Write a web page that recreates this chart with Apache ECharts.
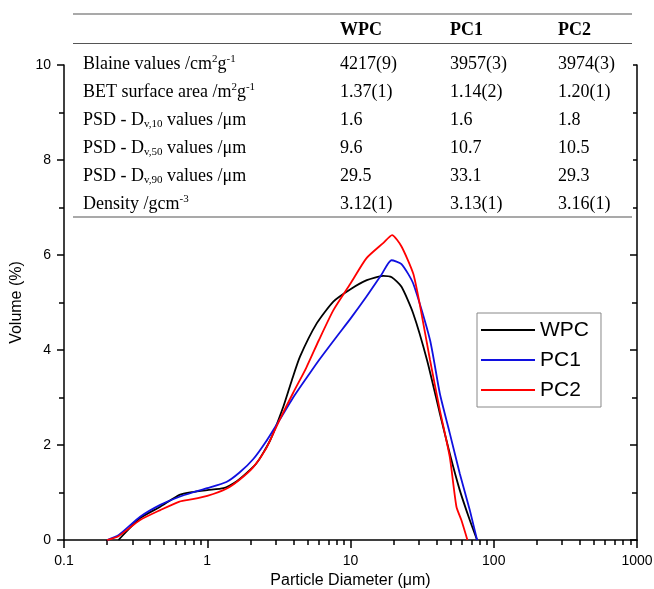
<!DOCTYPE html>
<html>
<head>
<meta charset="utf-8">
<script src="https://cdn.jsdelivr.net/npm/echarts@6/dist/echarts.min.js"></script>
<style>
  html, body { margin: 0; padding: 0; background: #fff; }
  #chart { width: 654px; height: 589px; }
</style>
</head>
<body>
<div id="chart"></div>
<script>
// particle size distributions
const wpcX = [0.24, 0.34, 0.47, 0.64, 0.79, 1.0, 1.3, 1.6, 2.2, 2.75, 3.4, 3.9, 4.44, 5.81, 7.59, 10, 13, 16.9, 19.4, 22.7, 27.4, 34.2, 42, 49.3, 57.9, 68, 76.5]
const wpcY = [0, 0.46, 0.70, 0.95, 1.01, 1.05, 1.09, 1.23, 1.61, 2.10, 2.81, 3.37, 3.86, 4.56, 5.02, 5.28, 5.47, 5.56, 5.53, 5.33, 4.77, 3.79, 2.67, 1.82, 1.05, 0.42, 0]

const pc1X = [0.2, 0.24, 0.34, 0.47, 0.64, 0.79, 1.0, 1.36, 1.68, 2.09, 2.58, 3.2, 3.98, 4.9, 6.0, 8.0, 10, 12.9, 16.4, 19.3, 22.7, 27.4, 35.9, 42, 49.3, 57.9, 68, 76.5]
const pc1Y = [0, 0.1, 0.49, 0.74, 0.91, 1.0, 1.09, 1.22, 1.42, 1.70, 2.08, 2.53, 3.0, 3.4, 3.78, 4.28, 4.66, 5.12, 5.58, 5.89, 5.81, 5.40, 4.21, 3.09, 2.25, 1.40, 0.63, 0]

const pc2X = [0.2, 0.24, 0.34, 0.47, 0.64, 0.79, 1.0, 1.36, 1.68, 2.09, 2.58, 3.2, 3.98, 4.9, 6.0, 7.6, 10, 12.9, 16.9, 19.5, 22.7, 27.4, 30.5, 35.9, 42, 49.3, 54.9, 59.4, 65.5]
const pc2Y = [0, 0.08, 0.42, 0.63, 0.81, 0.86, 0.93, 1.08, 1.27, 1.53, 1.93, 2.53, 3.10, 3.62, 4.20, 4.84, 5.40, 5.93, 6.25, 6.42, 6.18, 5.61, 4.95, 3.79, 2.74, 1.75, 0.70, 0.42, 0]

// table of properties
const tableCols = ['WPC', 'PC1', 'PC2']
const tableRows = [
  'Blaine values /cm{sup|2}g{sup|-1}',
  'BET surface area /m{sup|2}g{sup|-1}',
  'PSD - D{sub|v,10} values /μm',
  'PSD - D{sub|v,50} values /μm',
  'PSD - D{sub|v,90} values /μm',
  'Density /gcm{sup|-3}',
]
const wpcProps = ['4217(9)', '1.37(1)', '1.6', '9.6', '29.5', '3.12(1)']
const pc1Props = ['3957(3)', '1.14(2)', '1.6', '10.7', '33.1', '3.13(1)']
const pc2Props = ['3974(3)', '1.20(1)', '1.8', '10.5', '29.3', '3.16(1)']

// minor ticks of the log axis (2..9 in each decade), as log10 positions
const minorX = []
for (let k = -1; k < 3; k++) {
  for (let m = 2; m <= 9; m++) minorX.push(k + Math.log10(m))
}

const sans = 'Liberation Sans'
const serif = 'Liberation Serif'

const makeSeries = (name, xs, ys, color) => ({
  name,
  type: 'line',
  data: xs.map((x, i) => [x, ys[i]]),
  symbol: 'none',
  smooth: 0.2,
  lineStyle: { color, width: 1.8 },
  itemStyle: { color },
})

// table drawn on top of the plot
const richStyle = {
  sup: { fontFamily: serif, fontSize: 11, lineHeight: 11, verticalAlign: 'top', fill: '#000' },
  sub: { fontFamily: serif, fontSize: 11, lineHeight: 9, verticalAlign: 'bottom', fill: '#000' },
}
const colX = [340, 450, 558]
const rowY = (i) => 64 + i * 28
const graphics = [
  { type: 'rect', shape: { x: 72, y: 12, width: 561, height: 206 }, style: { fill: '#fff' }, z: 10 },
  { type: 'line', shape: { x1: 73, y1: 14, x2: 632, y2: 14 }, style: { stroke: '#555', lineWidth: 1.2 }, z: 11 },
  { type: 'line', shape: { x1: 73, y1: 43.5, x2: 632, y2: 43.5 }, style: { stroke: '#555', lineWidth: 1.2 }, z: 11 },
  { type: 'line', shape: { x1: 73, y1: 217, x2: 632, y2: 217 }, style: { stroke: '#555', lineWidth: 1.2 }, z: 11 },
]
tableCols.forEach((c, j) => {
  graphics.push({
    type: 'text', x: colX[j], y: 30, z: 11,
    style: { text: c, fontFamily: serif, fontSize: 18, fontWeight: 'bold', fill: '#000', verticalAlign: 'middle' },
  })
})
tableRows.forEach((r, i) => {
  graphics.push({
    type: 'text', x: 83, y: rowY(i), z: 11,
    style: { text: r, fontFamily: serif, fontSize: 18, lineHeight: 20, fill: '#000', verticalAlign: 'middle', rich: richStyle },
  })
  ;[wpcProps, pc1Props, pc2Props].forEach((vals, j) => {
    graphics.push({
      type: 'text', x: colX[j], y: rowY(i), z: 11,
      style: { text: vals[i], fontFamily: serif, fontSize: 18, fill: '#000', verticalAlign: 'middle' },
    })
  })
})

const axisLine = { show: true, onZero: false, lineStyle: { color: '#000', width: 1.5 } }

const option = {
  animation: false,
  backgroundColor: '#fff',
  grid: { left: 64, right: 17, top: 65, bottom: 49, outerBoundsMode: 'none' },
  legend: {
    orient: 'vertical',
    left: 477,
    top: 313,
    data: ['WPC', 'PC1', 'PC2'],
    icon: 'rect',
    itemWidth: 54,
    itemHeight: 2,
    itemGap: 8,
    padding: [6, 12, 6, 4],
    borderColor: '#888',
    borderWidth: 1,
    textStyle: { fontFamily: sans, fontSize: 21, lineHeight: 22, color: '#000' },
  },
  xAxis: [
    {
      type: 'log',
      logBase: 10,
      min: 0.1,
      max: 1000,
      position: 'bottom',
      axisLine,
      axisTick: { length: 8, lineStyle: { color: '#000', width: 1.5 } },
      axisLabel: {
        fontFamily: sans, fontSize: 14, color: '#000', margin: 14,
        formatter: (v) => String(parseFloat(Number(v).toPrecision(3))),
      },
      splitLine: { show: false },
      name: 'Particle Diameter (μm)',
      nameLocation: 'middle',
      nameGap: 33,
      nameTextStyle: { fontFamily: sans, fontSize: 16, color: '#000' },
    },
    {
      type: 'value',
      min: -1,
      max: 3,
      position: 'bottom',
      axisLine: { show: false, onZero: false },
      axisLabel: { show: false },
      axisTick: { show: true, customValues: minorX, length: 5, lineStyle: { color: '#000', width: 1.5 } },
      splitLine: { show: false },
    },
  ],
  yAxis: [
    {
      type: 'value',
      min: 0,
      max: 10,
      interval: 2,
      position: 'left',
      axisLine,
      axisTick: { length: 7, lineStyle: { color: '#000', width: 1.5 } },
      minorTick: { show: true, splitNumber: 2, length: 5, lineStyle: { color: '#000', width: 1.5 } },
      axisLabel: { fontFamily: sans, fontSize: 14, color: '#000', margin: 13 },
      splitLine: { show: false },
      name: 'Volume (%)',
      nameLocation: 'middle',
      nameGap: 36,
      nameTextStyle: { fontFamily: sans, fontSize: 16, color: '#000' },
    },
    {
      type: 'value',
      min: 0,
      max: 10,
      interval: 2,
      position: 'right',
      axisLine,
      axisTick: { inside: true, length: 7, lineStyle: { color: '#000', width: 1.5 } },
      minorTick: { show: true, splitNumber: 2, length: 5, lineStyle: { color: '#000', width: 1.5 } },
      axisLabel: { show: false },
      splitLine: { show: false },
    },
  ],
  series: [
    makeSeries('WPC', wpcX, wpcY, '#000000'),
    makeSeries('PC1', pc1X, pc1Y, '#1010e0'),
    makeSeries('PC2', pc2X, pc2Y, '#ff0000'),
  ],
  graphic: graphics,
}

const chart = echarts.init(document.getElementById('chart'))
chart.setOption(option)
</script>
</body>
</html>
